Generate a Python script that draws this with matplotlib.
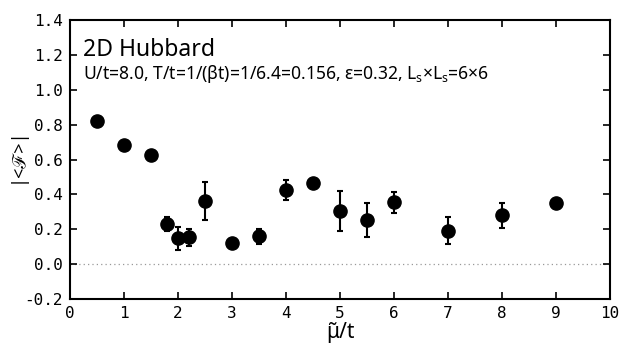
import matplotlib
matplotlib.use("Agg")
import matplotlib.pyplot as plt

mu = [0.5, 1.0, 1.5, 1.8, 2.0, 2.2, 2.5, 3.0, 3.5, 4.0, 4.5, 5.0, 5.5, 6.0, 7.0, 8.0, 9.0]
F = [0.823, 0.682, 0.626, 0.23, 0.149, 0.154, 0.363, 0.124, 0.16, 0.425, 0.463,
     0.306, 0.253, 0.356, 0.192, 0.28, 0.352]
err = [0.012, 0.012, 0.025, 0.04, 0.066, 0.048, 0.11, 0.01, 0.042, 0.055, 0.025,
       0.115, 0.10, 0.06, 0.079, 0.07, 0.012]
xticks = list(range(0, 11))
yticks = [-0.2, 0.0, 0.2, 0.4, 0.6, 0.8, 1.0, 1.2, 1.4]
ytick_labels = ["-0.2", "0.0", "0.2", "0.4", "0.6", "0.8", "1.0", "1.2", "1.4"]

plt.rcParams['font.family'] = ['Noto Sans', 'DejaVu Sans']
plt.rcParams['mathtext.fontset'] = 'custom'
plt.rcParams['mathtext.rm'] = 'Noto Sans'

fig = plt.figure(figsize=(6.2, 3.58), dpi=100)
ax = fig.add_axes([70/620, 1-299/358, 540/620, 279/358])

ax.axhline(0.0, color='#999999', lw=0.9, ls=(0, (1, 2.5)), zorder=1)
ax.errorbar(mu, F, yerr=err, fmt='o', color='black', ms=9.5, elinewidth=1.5,
            capsize=2.4, capthick=1.5, zorder=3)

ax.set_xlim(0, 10)
ax.set_ylim(-0.2, 1.4)
ax.set_xticks(xticks)
ax.set_yticks(yticks)
ax.set_yticklabels(ytick_labels)
ax.tick_params(direction='in', top=True, right=True, length=5, width=1.2,
               labelsize=11.5, pad=5)
for lab in ax.get_xticklabels() + ax.get_yticklabels():
    lab.set_family('DejaVu Sans Mono')
for s in ax.spines.values():
    s.set_linewidth(1.5)

ax.set_xlabel('μ̃/t', fontsize=15, labelpad=1)
ax.set_ylabel('|<ℱ>|', fontsize=13)
ax.yaxis.set_label_coords(-0.082, 0.516)

ax.text(0.024, 0.871, '2D Hubbard', transform=ax.transAxes, fontsize=16.5,
        ha='left', va='baseline')
ax.text(0.024, 0.789,
        r'U/t=8.0, T/t=1/(βt)=1/6.4=0.156, ε=0.32, L$_\mathregular{s}$×L$_\mathregular{s}$=6×6',
        transform=ax.transAxes, fontsize=12.6, ha='left', va='baseline')

fig.savefig('out.png', dpi=100)
